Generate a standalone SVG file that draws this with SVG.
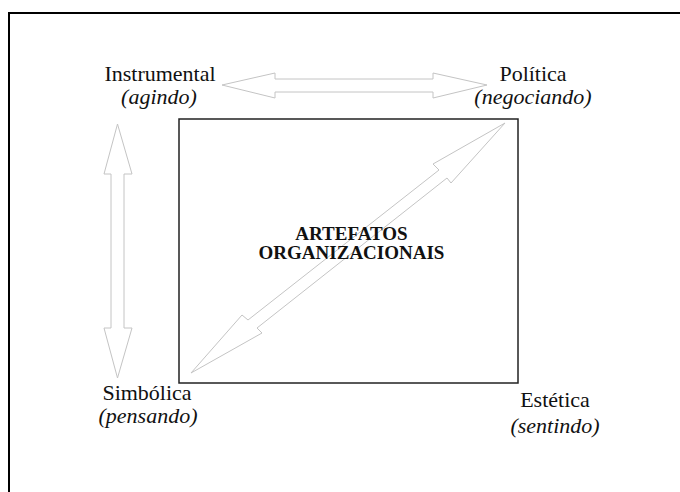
<svg xmlns="http://www.w3.org/2000/svg" width="680" height="492" viewBox="0 0 680 492">
<style>
.lbl{font-family:"Liberation Serif","DejaVu Serif","Times New Roman",serif;font-size:22px;fill:#111;text-anchor:middle}
.it{font-style:italic}
.ctr{font-family:"Liberation Serif","DejaVu Serif","Times New Roman",serif;font-size:19px;font-weight:bold;fill:#111;text-anchor:middle}
.arr{fill:none;stroke:#c4c4c4;stroke-width:1}
</style>
<rect width="680" height="492" fill="#fff"/>
<path d="M9,492 V13 H680" fill="none" stroke="#000" stroke-width="2"/>
<g id="connectors">
<polygon class="arr" points="222,85 275,73 275,79 433,79 433,73 487,85 433,98 433,92 275,92 275,98"/>
<polygon class="arr" points="117.5,124 132,174 124,174 124,328 132,328 117.5,378 104,328 111,328 111,174 104,174"/>
<polygon class="arr" points="505,123 433,164 439,170 248,320 242,315 191,373 262,333 257,328 447,178 451,183"/>
</g>
<g id="artefatos">
<rect x="179" y="119" width="339" height="264" fill="none" stroke="#222" stroke-width="1.5"/>
<text class="ctr" x="351.5" y="240">ARTEFATOS</text>
<text class="ctr" x="351.5" y="259">ORGANIZACIONAIS</text>
</g>
<g id="instrumental">
<text class="lbl" x="160" y="81">Instrumental</text>
<text class="lbl it" x="159" y="104">(agindo)</text>
</g>
<g id="politica">
<text class="lbl" x="533" y="81">Política</text>
<text class="lbl it" x="533" y="104">(negociando)</text>
</g>
<g id="simbolica">
<text class="lbl" x="147" y="400">Simbólica</text>
<text class="lbl it" x="148" y="423">(pensando)</text>
</g>
<g id="estetica">
<text class="lbl" x="555" y="407">Estética</text>
<text class="lbl it" x="555" y="433">(sentindo)</text>
</g>
</svg>
